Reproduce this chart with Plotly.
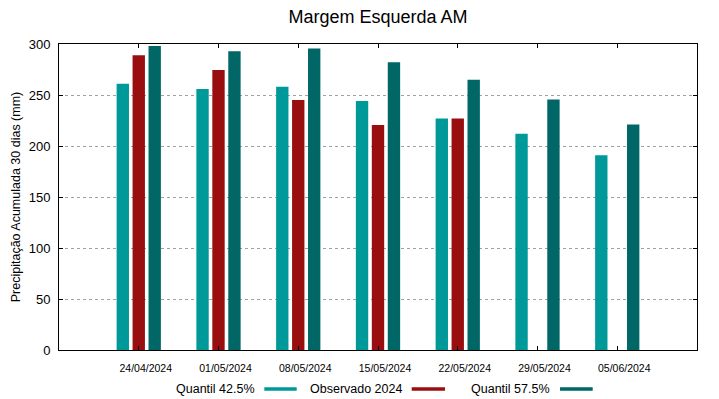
import plotly.graph_objects as go

dates = ["24/04/2024", "01/05/2024", "08/05/2024", "15/05/2024",
         "22/05/2024", "29/05/2024", "05/06/2024"]
q425 = [261, 256, 258, 244, 227, 212, 191]
obs2024 = [289, 274.5, 245, 220.5, 227, None, None]
q575 = [298, 293, 295.5, 282, 265, 245.5, 221]

names = ["Quantil 42.5%", "Observado 2024", "Quantil 57.5%"]
colors = ["#009999", "#990f0f", "#006666"]
series = [q425, obs2024, q575]

FONT = "Liberation Sans, Arial, sans-serif"

fig = go.Figure()
for nm, col, vals in zip(names, colors, series):
    fig.add_trace(go.Bar(x=dates, y=vals, name=nm, marker_color=col,
                         marker_line_width=0, showlegend=False))

# custom legend (text followed by swatch, as in the reference)
leg_text_x = [0.3099, 0.5408, 0.7727]
leg_sw_x = [(0.3218, 0.3726), (0.5528, 0.6050), (0.7853, 0.8365)]
annotations = []
shapes = []
for nm, col, tx, (s0, s1) in zip(names, colors, leg_text_x, leg_sw_x):
    annotations.append(dict(text=nm, x=tx, y=-0.126, xref="paper", yref="paper",
                            xanchor="right", yanchor="middle", showarrow=False,
                            font=dict(family=FONT, size=12.5, color="#000000")))
    shapes.append(dict(type="rect", xref="paper", yref="paper", x0=s0, x1=s1,
                       y0=-0.1330, y1=-0.1219, fillcolor=col, line_width=0))

fig.update_layout(
    width=719, height=399,
    margin=dict(l=59, r=22, t=44, b=49, autoexpand=False),
    paper_bgcolor="white", plot_bgcolor="white",
    font=dict(family=FONT, color="#000000"),
    title=dict(text="Margem Esquerda AM", x=0.5, xref="paper", xanchor="center",
               y=0.959, yref="container", yanchor="middle",
               font=dict(family=FONT, size=18, color="#000000")),
    barmode="group", bargap=0.4, bargroupgap=0.225,
    annotations=annotations, shapes=shapes,
    showlegend=False,
)
fig.update_xaxes(type="category", range=[-1, 7], showline=True, linecolor="black",
                 linewidth=1, mirror="allticks", ticks="inside", ticklen=4,
                 tickcolor="black", showgrid=False, zeroline=False, automargin=False,
                 tickfont=dict(family=FONT, size=10.5, color="#000000"),
                 ticklabelstandoff=8, ticklabelshift=7)
fig.update_yaxes(range=[0, 300], tickvals=[0, 50, 100, 150, 200, 250, 300],
                 showline=True, linecolor="black", linewidth=1, mirror="allticks",
                 ticks="inside", ticklen=4, tickcolor="black",
                 showgrid=True, gridcolor="#a0a0a0", griddash="dot", gridwidth=1,
                 zeroline=False, automargin=False,
                 tickfont=dict(family=FONT, size=13, color="#000000"),
                 ticklabelstandoff=5,
                 title=dict(text="Precipitação Acumulada 30 dias (mm)", standoff=5,
                            font=dict(family=FONT, size=12.5, color="#000000")))

fig.write_html("out.html", config={"responsive": False, "displayModeBar": False},
               post_script="document.body.style.margin='0';"
                           "document.body.style.overflow='hidden';")
